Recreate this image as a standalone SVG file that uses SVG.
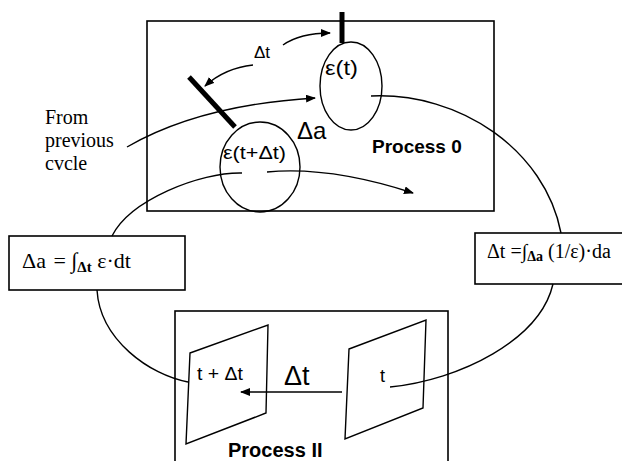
<svg xmlns="http://www.w3.org/2000/svg" width="622" height="461" viewBox="0 0 622 461">
<style>
.ln{fill:none;stroke:#000;stroke-width:1.4}
.box{fill:none;stroke:#000;stroke-width:1.6}
.bar{stroke:#000;stroke-width:5;stroke-linecap:butt}
.sans{font-family:"Liberation Sans",Arial,sans-serif;fill:#000}
.serif{font-family:"Liberation Serif","Times New Roman",serif;fill:#000}
.bold{font-weight:bold}
</style>
<defs>
<marker id="ah" viewBox="0 0 10 8" refX="9" refY="4" markerWidth="10" markerHeight="8" markerUnits="userSpaceOnUse" orient="auto">
<path d="M0,0 L10,4 L0,8 Z" fill="#000"/>
</marker>
</defs>
<rect width="622" height="461" fill="#fff"/>
<g id="process0">
<rect class="box" x="147" y="21" width="347" height="190"/>
<text class="sans bold" x="372" y="153" font-size="19">Process 0</text>
</g>
<g id="processII">
<rect class="box" x="175" y="311" width="273" height="170"/>
<text class="sans bold" x="228" y="457" font-size="20">Process II</text>
</g>
<g id="eps_t">
<ellipse class="ln" cx="351" cy="86" rx="31" ry="44"/>
<text class="sans" x="325" y="75" font-size="20" textLength="33" lengthAdjust="spacingAndGlyphs">ε(t)</text>
<line class="bar" x1="342" y1="12" x2="342" y2="43"/>
</g>
<g id="eps_tdt">
<ellipse class="ln" cx="260" cy="167" rx="40" ry="45"/>
<text class="sans" x="223" y="159" font-size="19" textLength="63" lengthAdjust="spacingAndGlyphs">ε(t+Δt)</text>
<line class="bar" x1="189" y1="77" x2="235" y2="127"/>
</g>
<g id="labels">
<text class="sans" x="262" y="58" font-size="17" text-anchor="middle">Δt</text>
<text class="sans" x="297" y="139" font-size="24">Δa</text>
<text class="serif" x="45" y="124" font-size="20">From</text>
<text class="serif" x="45" y="147" font-size="20">previous</text>
<text class="serif" x="45" y="170" font-size="20">cvcle</text>
</g>
<g id="box_da">
<rect class="box" x="9" y="236" width="176" height="54"/>
<text class="serif" x="22" y="268" font-size="22">Δa <tspan dx="2">= ∫</tspan><tspan font-size="15" dy="4" font-weight="bold">Δt</tspan><tspan dy="-4"> ε·dt</tspan></text>
</g>
<g id="box_dt">
<rect class="box" x="475" y="233" width="160" height="51"/>
<text class="serif" x="487" y="258" font-size="20">Δt =∫<tspan font-size="14" dy="3" font-weight="bold">Δa</tspan><tspan dy="-3"> (1/ε)·da</tspan></text>
</g>
<g id="plane_tdt">
<polygon class="ln" points="190,353 268,325 266,413 186,444"/>
<text class="sans" x="197" y="380" font-size="18" textLength="46" lengthAdjust="spacingAndGlyphs">t + Δt</text>
</g>
<g id="plane_t">
<polygon class="ln" points="349,349 426,320 423,408 345,439"/>
<text class="sans" x="380" y="382" font-size="18">t</text>
<text class="sans" x="284" y="385" font-size="27">Δt</text>
</g>
<g id="connectors">
<path class="ln" d="M283,45 Q300,33 330,33" marker-end="url(#ah)"/>
<path class="ln" d="M253,65 Q225,68 205,86" marker-end="url(#ah)"/>
<path class="ln" d="M127,147 Q200,105 315,98" marker-end="url(#ah)"/>
<path class="ln" d="M267,172 Q330,166 413,193" marker-end="url(#ah)"/>
<path class="ln" d="M242,173 C200,172 130,200 112,236"/>
<path class="ln" d="M97,290 C100,340 150,375 188,382"/>
<path class="ln" d="M371,96 C460,92 545,150 561,233"/>
<path class="ln" d="M390,387 C460,380 540,340 553,284"/>
<path class="ln" d="M342,392 L241,392" marker-end="url(#ah)"/>
</g>
</svg>
